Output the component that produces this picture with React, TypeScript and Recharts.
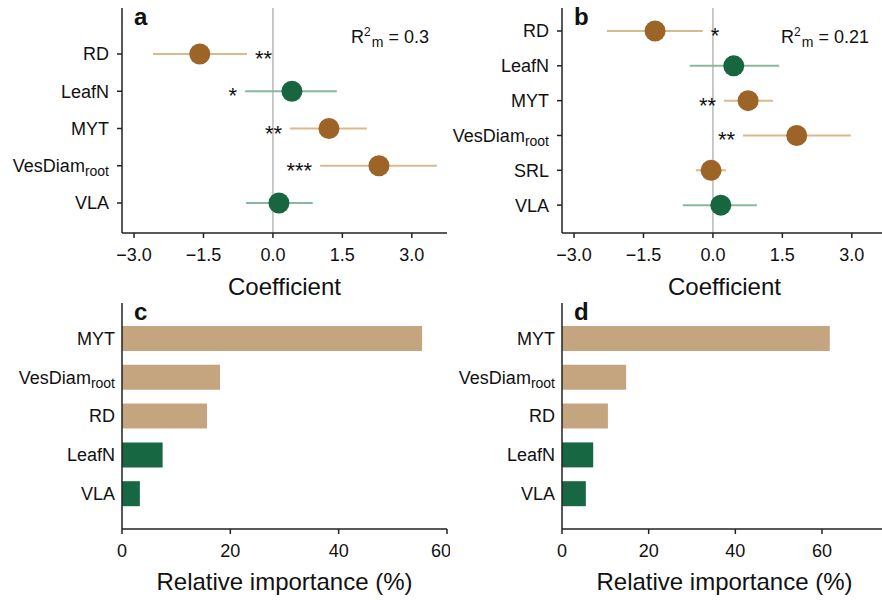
import React from 'react';
import {
  ScatterChart, Scatter, BarChart, Bar, Cell, XAxis, YAxis, ErrorBar, ReferenceLine,
} from 'recharts';

// panel a: mixed model coefficients
const coefTraitsA = ['RD', 'LeafN', 'MYT', 'VesDiam_root', 'VLA'];
const coefGroupA = ['root', 'leaf', 'root', 'root', 'leaf'];
const coefA = [-1.58, 0.41, 1.21, 2.29, 0.13];
const lowA = [-2.59, -0.6, 0.37, 1.02, -0.58];
const highA = [-0.56, 1.38, 2.03, 3.54, 0.86];
const starsA = ['**', '*', '**', '***', ''];
const starSideA = ['right', 'left', 'left', 'left', ''];
const r2A = '0.3';

// panel b
const coefTraitsB = ['RD', 'LeafN', 'MYT', 'VesDiam_root', 'SRL', 'VLA'];
const coefGroupB = ['root', 'leaf', 'root', 'root', 'root', 'leaf'];
const coefB = [-1.25, 0.45, 0.76, 1.81, -0.04, 0.17];
const lowB = [-2.29, -0.5, 0.24, 0.65, -0.37, -0.65];
const highB = [-0.22, 1.43, 1.3, 2.98, 0.28, 0.95];
const starsB = ['*', '', '**', '**', '', ''];
const starSideB = ['right', '', 'left', 'left', '', ''];
const r2B = '0.21';

// panels c, d: relative importance (%)
const impTraits = ['MYT', 'VesDiam_root', 'RD', 'LeafN', 'VLA'];
const impGroup = ['root', 'root', 'root', 'leaf', 'leaf'];
const impC = [55.4, 18.1, 15.7, 7.5, 3.3];
const impD = [61.8, 14.8, 10.6, 7.2, 5.5];

const coefTicks = [-3, -1.5, 0, 1.5, 3];
const impTicks = [0, 20, 40, 60];

const colors = {
  root: '#9c6527',
  rootLight: '#d9b98e',
  leaf: '#17663f',
  leafLight: '#89b89e',
  rootBar: '#c5a57f',
  leafBar: '#186743',
};
const ink = '#111';
const axisStyle = { stroke: '#222', strokeWidth: 1.5 };

const TraitLabel = ({ x, y, name }: any) => {
  const [main, sub] = name.split('_');
  return (
    <text x={x} y={y} dy="0.355em" textAnchor="end" fontSize={18} fill={ink}>
      {main}
      {sub && <tspan fontSize={14} dy={4}>{sub}</tspan>}
    </text>
  );
};

const PanelLetter = ({ letter }: { letter: string }) => (
  <text x={134} y={25} fontSize={24} fontWeight="bold" fill={ink}>{letter}</text>
);

const fmtCoef = (v: number) => (v < 0 ? '\u2212' : '') + Math.abs(v).toFixed(1);

type CoefProps = {
  letter: string; traits: string[]; group: string[]; coef: number[];
  low: number[]; high: number[]; stars: string[]; side: string[]; r2: string;
  yDomain: [number, number];
};

const CoefPanel = ({ letter, traits, group, coef, low, high, stars, side, r2, yDomain }: CoefProps) => {
  const rows = traits.map((t, i) => ({
    y: i + 1,
    x: coef[i],
    err: [coef[i] - low[i], high[i] - coef[i]],
    group: group[i],
  }));
  const starRows = traits
    .map((t, i) => ({ y: i + 1, x: side[i] === 'right' ? high[i] : low[i], stars: stars[i], side: side[i] }))
    .filter((r) => r.stars);

  const dot = (fill: string) => (p: any) => <circle cx={p.cx} cy={p.cy} r={10.5} fill={fill} />;
  const starShape = (p: any) => {
    const right = p.payload.side === 'right';
    return (
      <text x={p.cx + (right ? 8 : -8)} y={p.cy + 12} textAnchor={right ? 'start' : 'end'} fontSize={22} fill={ink}>
        {p.payload.stars}
      </text>
    );
  };

  return (
    <ScatterChart width={450} height={300} margin={{ top: 8, right: 3, bottom: 0, left: 0 }}>
      <XAxis
        type="number" dataKey="x" domain={[-3.26, 3.76]} allowDataOverflow ticks={coefTicks}
        tickFormatter={fmtCoef} tick={{ fontSize: 18, fill: ink }} tickSize={5} tickMargin={10}
        axisLine={axisStyle} tickLine={axisStyle} height={67}
        label={{ value: 'Coefficient', position: 'insideBottom', offset: 5, fontSize: 24, fill: ink }}
      />
      <YAxis
        type="number" dataKey="y" reversed domain={yDomain} allowDataOverflow
        ticks={traits.map((t, i) => i + 1)} width={122} tickSize={5} tickMargin={8}
        axisLine={axisStyle} tickLine={axisStyle}
        tick={(p: any) => <TraitLabel x={p.x} y={p.y} name={traits[p.payload.value - 1]} />}
      />
      <ReferenceLine x={0} stroke="#b8b8b8" strokeWidth={1.5} />
      <Scatter data={rows.filter((r) => r.group === 'root')} shape={dot(colors.root)} isAnimationActive={false}>
        <ErrorBar dataKey="err" direction="x" width={0} stroke={colors.rootLight} strokeWidth={2} />
      </Scatter>
      <Scatter data={rows.filter((r) => r.group === 'leaf')} shape={dot(colors.leaf)} isAnimationActive={false}>
        <ErrorBar dataKey="err" direction="x" width={0} stroke={colors.leafLight} strokeWidth={2} />
      </Scatter>
      <Scatter data={starRows} shape={starShape} isAnimationActive={false} />
      <PanelLetter letter={letter} />
      <text x={429} y={43} textAnchor="end" fontSize={18} fill={ink}>
        R<tspan fontSize={12} dy={-7}>2</tspan>
        <tspan fontSize={14} dx={1} dy={11}>m</tspan>
        <tspan fontSize={18} dy={-4}>{' = ' + r2}</tspan>
      </text>
    </ScatterChart>
  );
};

const ImpPanel = ({ letter, values, xMax }: { letter: string; values: number[]; xMax: number }) => {
  const data = impTraits.map((t, i) => ({ name: t, value: values[i], group: impGroup[i] }));
  return (
    <BarChart width={450} height={305} layout="vertical" data={data} margin={{ top: 8, right: 3, bottom: 0, left: 0 }}>
      <XAxis
        type="number" domain={[0, xMax]} allowDataOverflow ticks={impTicks}
        tick={{ fontSize: 18, fill: ink }} tickSize={5} tickMargin={10}
        axisLine={axisStyle} tickLine={axisStyle} height={71}
        label={{ value: 'Relative importance (%)', position: 'insideBottom', offset: 10, fontSize: 24, fill: ink }}
      />
      <YAxis
        type="category" dataKey="name" width={122} tickSize={5} tickLine={false}
        axisLine={axisStyle} padding={{ top: 16, bottom: 16 }}
        tick={(p: any) => <TraitLabel x={p.x} y={p.y} name={p.payload.value} />}
      />
      <Bar dataKey="value" barSize={25} isAnimationActive={false}>
        {data.map((d, i) => (
          <Cell key={i} fill={d.group === 'root' ? colors.rootBar : colors.leafBar} />
        ))}
      </Bar>
      <PanelLetter letter={letter} />
    </BarChart>
  );
};

export default function App() {
  const place = (left: number, top: number): React.CSSProperties => ({ position: 'absolute', left, top });
  return (
    <div
      style={{
        position: 'absolute', left: 0, top: 0, width: 882, height: 600, overflow: 'hidden',
        background: '#fff', fontFamily: '"Liberation Sans", Arial, Helvetica, sans-serif',
      }}
    >
      <div style={place(0, 0)}>
        <CoefPanel letter="a" traits={coefTraitsA} group={coefGroupA} coef={coefA} low={lowA} high={highA}
          stars={starsA} side={starSideA} r2={r2A} yDomain={[-0.235, 5.805]} />
      </div>
      <div style={place(440, 0)}>
        <CoefPanel letter="b" traits={coefTraitsB} group={coefGroupB} coef={coefB} low={lowB} high={highB}
          stars={starsB} side={starSideB} r2={r2B} yDomain={[0.34, 6.8]} />
      </div>
      <div style={place(0, 295)}>
        <ImpPanel letter="c" values={impC} xMax={60} />
      </div>
      <div style={place(440, 295)}>
        <ImpPanel letter="d" values={impD} xMax={75} />
      </div>
    </div>
  );
}
